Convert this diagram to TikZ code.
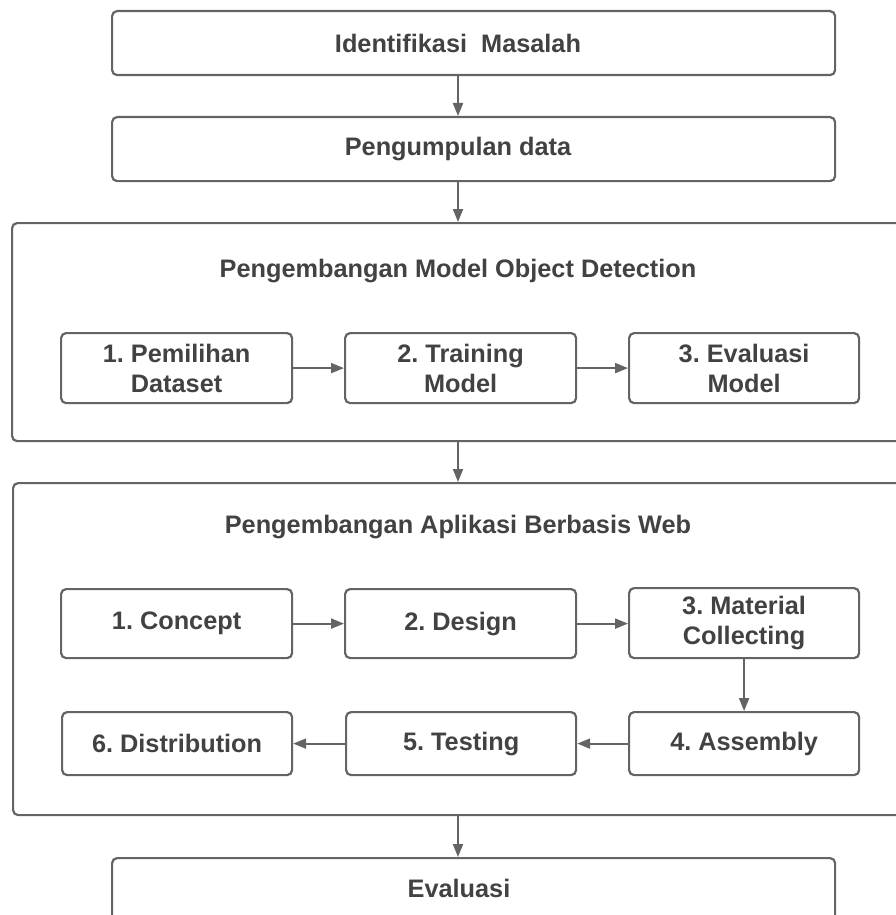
\documentclass[tikz,border=0pt]{standalone}
\usepackage{fontspec}
\setmainfont{Liberation Sans}[BoldFont={Liberation Sans Bold}]
\newfontfamily\lbold{Liberation Sans Bold}
\usetikzlibrary{arrows.meta}
\definecolor{linegray}{HTML}{646464}
\definecolor{textgray}{HTML}{424242}
\frenchspacing
\tikzset{
  box/.style={draw=linegray, line width=2.2pt, rounded corners=5pt, fill=white,
    text=textgray, font=\lbold\fontsize{25.3}{30}\selectfont, align=center,
    inner sep=0pt, anchor=north west},
  bigbox/.style={draw=linegray, line width=2.2pt, rounded corners=5pt,
    inner sep=0pt, anchor=north west},
  title/.style={text=textgray, font=\lbold\fontsize{25.3}{30}\selectfont, inner sep=0pt},
  arr/.style={draw=linegray, line width=2pt, -{Triangle[length=13pt,width=10pt]}}
}
\begin{document}
\begin{tikzpicture}[x=1pt,y=-1pt]
\useasboundingbox (0,0) rectangle (896,915);
\clip (0,0) rectangle (896,915);
\fill[white] (0,0) rectangle (896,915);
\coordinate (mid) at (458,0);

\node[bigbox, minimum width=723pt, minimum height=64pt] (A) at (111,10) {};
\node[title] (At) at (mid |- A.center) {Identifikasi\ \ Masalah};
\node[bigbox, minimum width=723pt, minimum height=64pt] (B) at (111,116) {};
\node[title] (Bt) at (mid |- B.center) {Pengumpulan data};

\node[bigbox, minimum width=894pt, minimum height=218pt] (C) at (11,222) {};
\node[title] (Ct) at (458,271) {Pengembangan Model Object Detection};
\node[box, minimum width=231pt, minimum height=70pt] (C1) at (60,332) {1. Pemilihan\\Dataset};
\node[box, minimum width=231pt, minimum height=70pt] (C2) at (344,332) {2. Training\\Model};
\node[box, minimum width=230pt, minimum height=70pt] (C3) at (628,332) {3. Evaluasi\\Model};

\node[bigbox, minimum width=893pt, minimum height=332pt] (D) at (12,482) {};
\node[title] (Dt) at (458,527) {Pengembangan Aplikasi Berbasis Web};
\node[box, minimum width=231pt, minimum height=69pt] (D1) at (60,588) {1. Concept};
\node[box, minimum width=231pt, minimum height=69pt] (D2) at (344,588) {2. Design};
\node[box, minimum width=230pt, minimum height=70pt] (D3) at (628,587) {3. Material\\Collecting};
\node[box, minimum width=230pt, minimum height=63pt] (D4) at (628,711) {4. Assembly};
\node[box, minimum width=230pt, minimum height=63pt] (D5) at (345,711) {5. Testing};
\node[box, minimum width=230pt, minimum height=63pt] (D6) at (61,711) {6. Distribution};

\node[bigbox, minimum width=723pt, minimum height=80pt] (E) at (111,857) {};
\node[title] (Et) at (459,888) {Evaluasi};

\draw[arr] (A.south -| mid) -- (B.north -| mid);
\draw[arr] (B.south -| mid) -- (C.north -| mid);
\draw[arr] (C.south -| mid) -- (D.north -| mid);
\draw[arr] (D.south -| mid) -- (E.north -| mid);

\draw[arr] (C1) -- (C2);
\draw[arr] (C2) -- (C3);
\draw[arr] (D1) -- (D2);
\draw[arr] (D2.east) -- (D3.west |- D2.east);
\draw[arr] (D3) -- (D4);
\draw[arr] (D4) -- (D5);
\draw[arr] (D5) -- (D6);
\end{tikzpicture}
\end{document}
